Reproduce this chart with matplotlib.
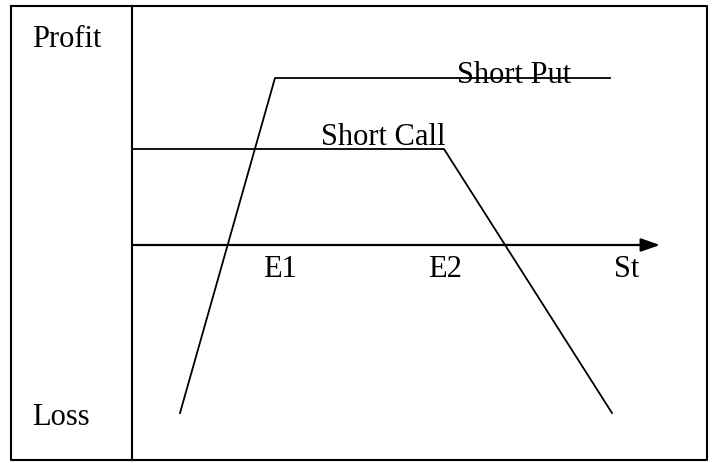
import matplotlib.pyplot as plt

plt.rcParams['font.family'] = ['Liberation Serif', 'DejaVu Serif']

# payoff diagram values (St on x, profit on y; origin where the axes cross)
put_st = [48, 143, 478]
put_profit = [-168, 167, 167]
call_st = [0, 312, 480]
call_profit = [96, 96, -168]
strike_labels = ['E1', 'E2', 'St']
strike_pos = [148, 313, 495]

fig = plt.figure(figsize=(7.16, 4.64), dpi=100)
ax = fig.add_axes([0, 0, 1, 1])
ax.set_xlim(-132, 584)
ax.set_ylim(-218, 246)
ax.axis('off')

# outer frame and divider
ax.plot([-121, 575, 575, -121, -121], [239, 239, -215, -215, 239], color='black', lw=1.5)
ax.plot([0, 0], [239, -215], color='black', lw=1.5)

# St axis with arrow
ax.annotate('', xy=(528, 0), xytext=(0, 0),
            arrowprops=dict(arrowstyle='-|>,head_length=1.15,head_width=0.4', color='black', lw=1.6,
                            shrinkA=0, shrinkB=0))

ax.plot(put_st, put_profit, color='black', lw=1.3)
ax.plot(call_st, call_profit, color='black', lw=1.3)

fs = 22
ax.text(-100, 199, 'Profit', fontsize=fs, va='baseline')
ax.text(-100, -179, 'Loss', fontsize=fs, va='baseline')
for lab, p in zip(strike_labels, strike_pos):
    ax.text(p, -31, lab, fontsize=fs, ha='center', va='baseline')
ax.text(325, 163, 'Short Put', fontsize=fs, va='baseline')
ax.text(189, 101, 'Short Call', fontsize=fs, va='baseline')

plt.savefig('out.png', dpi=100)
